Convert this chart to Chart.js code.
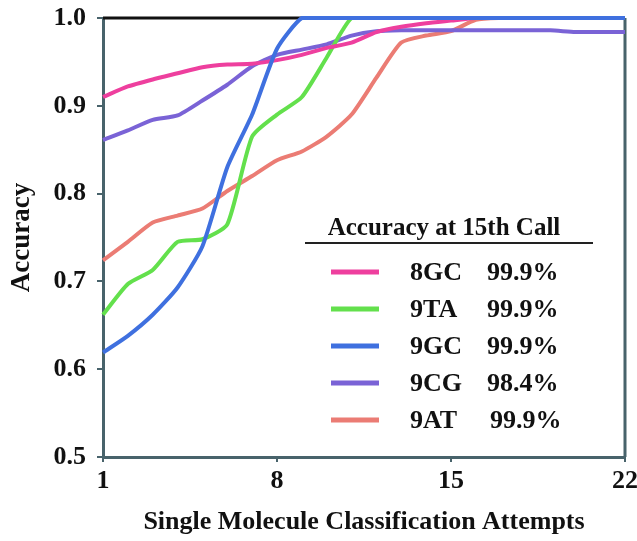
<!DOCTYPE html>
<html>
<head>
<meta charset="utf-8">
<script src="https://cdn.jsdelivr.net/npm/chart.js@4"></script>
<style>
    html, body { margin: 0; padding: 0; background: #fff; }
    canvas { display: block; }
</style>
</head>
<body>
<canvas id="accuracyChart" width="637" height="541"></canvas>
<script>
// attempts along x, accuracy per sequence
const attempts = [1, 2, 3, 4, 5, 6, 7, 8, 9, 10, 11, 12, 13, 14, 15, 16, 17, 18, 19, 20, 21, 22];
const acc8GC = [0.910, 0.922, 0.930, 0.937, 0.944, 0.947, 0.948, 0.952, 0.958, 0.966, 0.972, 0.984, 0.990, 0.994, 0.997, 1.0, 1.0, 1.0, 1.0, 1.0, 1.0, 1.0];
const acc9TA = [0.662, 0.697, 0.713, 0.745, 0.748, 0.765, 0.865, 0.890, 0.910, 0.955, 1.0, 1.0, 1.0, 1.0, 1.0, 1.0, 1.0, 1.0, 1.0, 1.0, 1.0, 1.0];
const acc9GC = [0.619, 0.638, 0.662, 0.693, 0.740, 0.830, 0.890, 0.965, 1.0, 1.0, 1.0, 1.0, 1.0, 1.0, 1.0, 1.0, 1.0, 1.0, 1.0, 1.0, 1.0, 1.0];
const acc9CG = [0.861, 0.872, 0.884, 0.889, 0.906, 0.924, 0.945, 0.958, 0.964, 0.970, 0.980, 0.985, 0.986, 0.986, 0.986, 0.986, 0.986, 0.986, 0.986, 0.984, 0.984, 0.984];
const acc9AT = [0.724, 0.745, 0.767, 0.775, 0.783, 0.803, 0.820, 0.838, 0.848, 0.865, 0.890, 0.932, 0.972, 0.980, 0.985, 0.998, 1.0, 1.0, 1.0, 1.0, 1.0, 1.0];

const xTicks = [1, 8, 15, 22];
const yTicks = [0.5, 0.6, 0.7, 0.8, 0.9, 1.0];

const seriesNames = ['8GC', '9TA', '9GC', '9CG', '9AT'];
const seriesAcc15 = ['99.9%', '99.9%', '99.9%', '98.4%', '99.9%'];
const seriesColors = ['#ee3f9e', '#63e04c', '#3f70df', '#7a63d6', '#eb7c74'];
const seriesValues = [acc8GC, acc9TA, acc9GC, acc9CG, acc9AT];

const FONT = '"Liberation Serif", "DejaVu Serif", serif';
const AXIS = '#48636b';

function toPoints(values) {
    return attempts.map((x, i) => ({ x, y: values[i] }));
}

const frame = {
    id: 'frame',
    beforeDatasetsDraw(chart) {
        const { ctx, chartArea: a } = chart;
        ctx.save();
        ctx.lineWidth = 3;
        ctx.strokeStyle = '#111';
        ctx.beginPath();
        ctx.moveTo(a.left, a.top);
        ctx.lineTo(a.right, a.top);
        ctx.stroke();
        ctx.strokeStyle = AXIS;
        ctx.beginPath();
        ctx.moveTo(a.right, a.top);
        ctx.lineTo(a.right, a.bottom);
        ctx.stroke();
        ctx.restore();
    },
};

const accLegend = {
    id: 'accLegend',
    afterDraw(chart) {
        const { ctx } = chart;
        ctx.save();
        ctx.fillStyle = '#111';
        ctx.font = `bold 25px ${FONT}`;
        ctx.textBaseline = 'alphabetic';
        ctx.textAlign = 'center';
        ctx.fillText('Accuracy at 15th Call', 444, 235);
        ctx.strokeStyle = '#222';
        ctx.lineWidth = 2;
        ctx.beginPath();
        ctx.moveTo(305, 243);
        ctx.lineTo(593, 243);
        ctx.stroke();

        ctx.font = `bold 26px ${FONT}`;
        ctx.textAlign = 'left';
        ctx.textBaseline = 'middle';
        seriesNames.forEach((name, i) => {
            const y = 272 + i * 37;
            ctx.strokeStyle = seriesColors[i];
            ctx.lineWidth = 5;
            ctx.beginPath();
            ctx.moveTo(331, y);
            ctx.lineTo(379, y);
            ctx.stroke();
            ctx.fillStyle = '#111';
            ctx.fillText(name, 410, y + 1);
            ctx.fillText(seriesAcc15[i], name === '9AT' ? 490 : 487, y + 1);
        });
        ctx.restore();
    },
};

new Chart(document.getElementById('accuracyChart'), {
    type: 'line',
    data: {
        datasets: seriesNames.map((name, i) => ({
            label: name,
            data: toPoints(seriesValues[i]),
            borderColor: seriesColors[i],
            borderWidth: 4,
            pointRadius: 0,
            tension: 0.2,
            clip: 4,
            order: name === '9GC' ? 0 : i + 1,
        })),
    },
    options: {
        responsive: false,
        animation: false,
        layout: { padding: { top: 18, right: 12, left: 0, bottom: 0 } },
        plugins: {
            legend: { display: false },
            tooltip: { enabled: false },
        },
        scales: {
            x: {
                type: 'linear',
                min: 1,
                max: 22,
                afterFit: (scale) => {
                    scale.height = 84;
                    scale.paddingLeft = 0;
                    scale.paddingRight = 0;
                },
                afterBuildTicks: (scale) => { scale.ticks = xTicks.map((v) => ({ value: v })); },
                ticks: {
                    color: '#111',
                    font: { family: FONT, size: 26, weight: 'bold' },
                    padding: 4,
                },
                grid: { drawOnChartArea: false, color: AXIS, tickLength: 5, lineWidth: 2 },
                border: { color: AXIS, width: 3 },
                title: {
                    display: true,
                    text: 'Single Molecule Classification Attempts',
                    color: '#111',
                    font: { family: FONT, size: 26, weight: 'bold' },
                    padding: { top: 0, bottom: 3 },
                },
            },
            y: {
                min: 0.5,
                max: 1.0,
                afterFit: (scale) => {
                    scale.width = 103;
                    scale.paddingTop = 0;
                    scale.paddingBottom = 0;
                },
                afterBuildTicks: (scale) => { scale.ticks = yTicks.map((v) => ({ value: v })); },
                ticks: {
                    color: '#111',
                    font: { family: FONT, size: 26, weight: 'bold' },
                    padding: 11,
                    callback: (v) => v.toFixed(1),
                },
                grid: { drawOnChartArea: false, color: AXIS, tickLength: 6, lineWidth: 2 },
                border: { color: AXIS, width: 3 },
                title: {
                    display: true,
                    text: 'Accuracy',
                    color: '#111',
                    font: { family: FONT, size: 27, weight: 'bold' },
                    padding: { top: 6, bottom: 0 },
                },
            },
        },
    },
    plugins: [frame, accLegend],
});
</script>
</body>
</html>
